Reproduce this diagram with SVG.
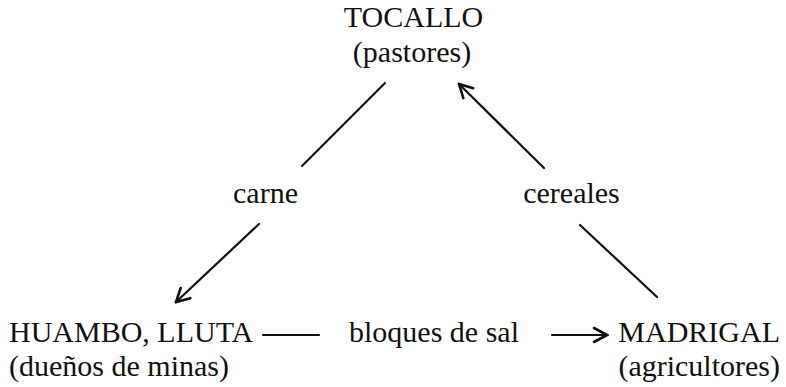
<svg xmlns="http://www.w3.org/2000/svg" width="786" height="387" viewBox="0 0 786 387">
<defs>
<style>
text{font-family:"Liberation Serif","Times New Roman",serif;font-size:30px;fill:#111}
.c{stroke:#111;stroke-width:2.2;fill:none;stroke-linecap:round}
.ah{stroke:#111;stroke-width:2.6;fill:none;stroke-linecap:round;stroke-linejoin:miter}
</style>
<marker id="arr" viewBox="0 0 20 20" refX="18" refY="10" markerWidth="20" markerHeight="20" markerUnits="userSpaceOnUse" orient="auto">
<path d="M5,3 L18,10 L5,17" class="ah"/>
</marker>
</defs>
<rect width="786" height="387" fill="#fff"/>
<g id="tocallo">
<text x="413.5" y="27" text-anchor="middle">TOCALLO</text>
<text x="412" y="62" text-anchor="middle">(pastores)</text>
</g>
<g id="huambo">
<text x="9" y="342">HUAMBO, LLUTA</text>
<text x="9" y="376">(dueños de minas)</text>
</g>
<g id="madrigal">
<text x="780" y="342" text-anchor="end">MADRIGAL</text>
<text x="780" y="376" text-anchor="end">(agricultores)</text>
</g>
<g id="connectors">
<line class="c" x1="385" y1="83" x2="302" y2="166"/>
<line class="c" x1="259" y1="224" x2="176" y2="302" marker-end="url(#arr)"/>
<text x="265.5" y="203" text-anchor="middle">carne</text>
<line class="c" x1="544" y1="168" x2="459" y2="84" marker-end="url(#arr)"/>
<line class="c" x1="580" y1="225" x2="657" y2="297"/>
<text x="571.5" y="203" text-anchor="middle">cereales</text>
<line class="c" x1="263" y1="335" x2="319" y2="335"/>
<text x="349" y="342">bloques de sal</text>
<line class="c" x1="552" y1="335" x2="607" y2="335" marker-end="url(#arr)"/>
</g>
</svg>
